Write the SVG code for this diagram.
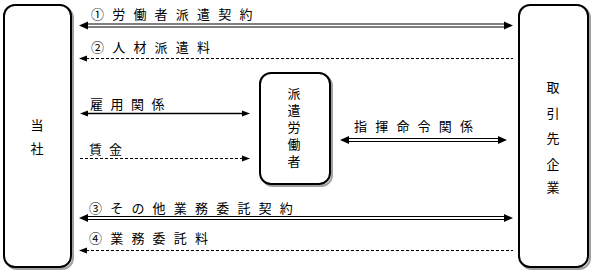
<svg xmlns="http://www.w3.org/2000/svg" width="595" height="277" viewBox="0 0 595 277">
<style>
.box{fill:#fff;stroke:#000;stroke-width:2}
.sh{fill:none;stroke:#a0a0a0;stroke-width:2}
.t{font-family:"Noto Sans CJK JP","Noto Sans CJK SC",sans-serif;font-size:13px;fill:#000}
.sp{letter-spacing:8.2px}
.dbl{stroke:#000;stroke-width:4}
.dblw{stroke:#fff;stroke-width:2}
.sg{stroke:#000;stroke-width:1.5}
.ds{stroke:#000;stroke-width:1;stroke-dasharray:3,2}
.ah{fill:#000}
</style>
<rect width="595" height="277" fill="#fff"/>
<g id="node-tousha">
<rect class="sh" x="6" y="7" width="67" height="262" rx="11"/>
<rect class="box" x="4" y="5" width="67" height="262" rx="11"/>
<text class="t" x="37" y="130" text-anchor="middle">当</text>
<text class="t" x="37" y="153" text-anchor="middle">社</text>
</g>
<g id="node-torihikisaki">
<rect class="sh" x="521" y="7" width="69" height="262" rx="11"/>
<rect class="box" x="519" y="5" width="69" height="262" rx="11"/>
<text class="t" x="553" y="92" text-anchor="middle">取</text>
<text class="t" x="553" y="118" text-anchor="middle">引</text>
<text class="t" x="553" y="143" text-anchor="middle">先</text>
<text class="t" x="553" y="168.5" text-anchor="middle">企</text>
<text class="t" x="553" y="192" text-anchor="middle">業</text>
</g>
<g id="node-haken">
<rect class="sh" x="262" y="75" width="70" height="111" rx="11"/>
<rect class="box" x="260" y="73" width="70" height="111" rx="11"/>
<text class="t" x="294" y="86.5" writing-mode="vertical-rl" style="letter-spacing:4px">派遣労働者</text>
</g>
<g id="connectors">
<line class="dbl" x1="87" y1="25.5" x2="505" y2="25.5"/>
<line class="dblw" x1="88" y1="25.5" x2="504" y2="25.5"/>
<polygon class="ah" points="79,25.5 88,21.5 88,29.5"/>
<polygon class="ah" points="513,25.5 504,21.5 504,29.5"/>
<line class="ds" x1="86" y1="58.5" x2="513" y2="58.5"/>
<polygon class="ah" points="79,58.5 87,55.5 87,61.5"/>
<line class="sg" x1="86" y1="113.5" x2="244" y2="113.5"/>
<polygon class="ah" points="80,113.5 88,110.5 88,116.5"/>
<polygon class="ah" points="250,113.5 242,110.5 242,116.5"/>
<line class="ds" x1="80" y1="158.5" x2="243" y2="158.5"/>
<polygon class="ah" points="250,158.5 242,155.5 242,161.5"/>
<line class="dbl" x1="348" y1="140" x2="499" y2="140"/>
<line class="dblw" x1="349" y1="140" x2="498" y2="140"/>
<polygon class="ah" points="340,140 349,136 349,144"/>
<polygon class="ah" points="507,140 498,136 498,144"/>
<line class="dbl" x1="87" y1="218" x2="505" y2="218"/>
<line class="dblw" x1="88" y1="218" x2="504" y2="218"/>
<polygon class="ah" points="79,218 88,214 88,222"/>
<polygon class="ah" points="513,218 504,214 504,222"/>
<line class="ds" x1="86" y1="250.5" x2="513" y2="250.5"/>
<polygon class="ah" points="79,250.5 87,247.5 87,253.5"/>
</g>
<g id="labels">
<text class="t sp" x="91" y="18.5">①労働者派遣契約</text>
<text class="t sp" x="91" y="52">②人材派遣料</text>
<text class="t" x="90" y="108.5" style="letter-spacing:7.5px">雇用関係</text>
<text class="t" x="89" y="154" style="letter-spacing:7px">賃金</text>
<text class="t sp" x="354" y="130.5">指揮命令関係</text>
<text class="t sp" x="89" y="212.5">③その他業務委託契約</text>
<text class="t sp" x="89" y="242.5">④業務委託料</text>
</g>
</svg>
